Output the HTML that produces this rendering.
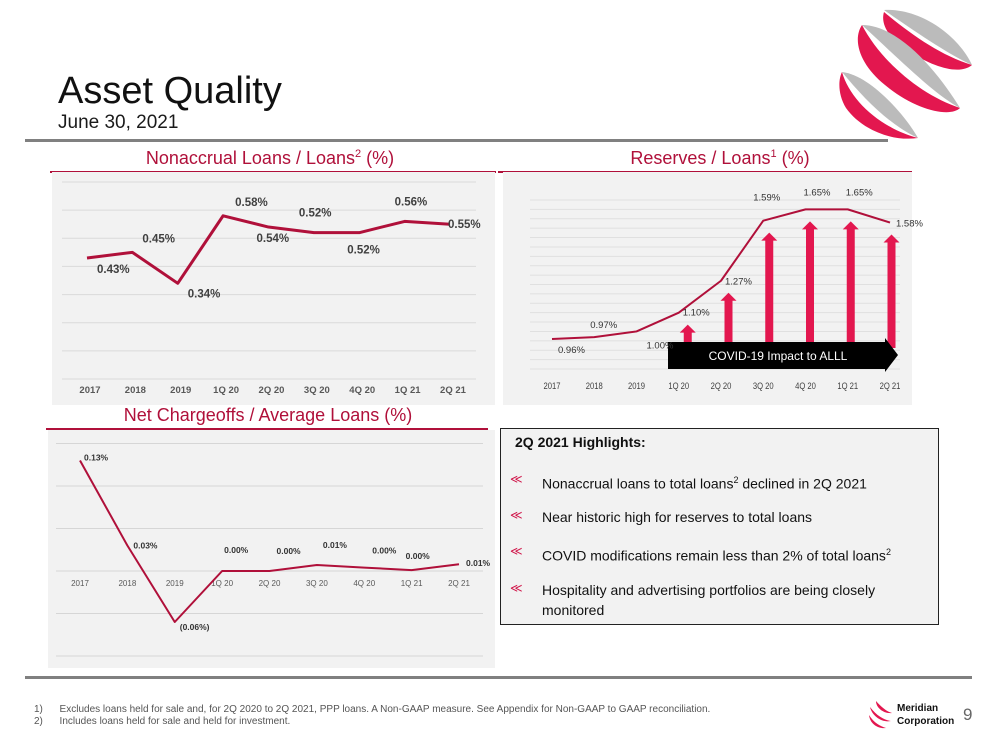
<!DOCTYPE html>
<html><head><meta charset="utf-8">
<style>
body{margin:0;width:1000px;height:750px;background:#fff;overflow:hidden;font-family:"Liberation Sans",sans-serif;}
svg{position:absolute;left:0;top:0;}
.hl{position:absolute;left:500px;top:428px;width:439px;height:197px;border:1px solid #222;background:#f2f2f2;box-sizing:border-box;font-family:"Liberation Sans",sans-serif;color:#111;}
.hl .h{position:absolute;left:14px;top:5px;font-weight:bold;font-size:14px;}
.hl .b{position:absolute;left:41px;font-size:14px;line-height:20px;width:390px;}
.hl .bi{position:absolute;left:9px;color:#d0164a;font-size:12px;}
</style></head><body>
<svg id="s" width="1000" height="750" xmlns="http://www.w3.org/2000/svg">
  <text x="58" y="103" font-size="38" fill="#111">Asset Quality</text>
  <text x="58" y="128" font-size="19" fill="#1a1a1a">June 30, 2021</text>
  <rect x="25" y="139" width="863" height="3" fill="#808080"/>
  <g>
    <path d="M884 10 C920 8 958 35 972 65 C950 55 920 35 884 10 Z" fill="#bbb"/>
    <path d="M884 12 C912 35 940 55 972 65 C960 75 935 68 910 52 C890 40 880 25 884 12 Z" fill="#e3174f"/>
    <path d="M862 25 C900 25 940 75 960 108 C935 95 900 60 862 25 Z" fill="#bbb"/>
    <path d="M862 25 C880 60 920 95 960 108 C950 118 915 110 885 85 C860 65 852 40 862 25 Z" fill="#e3174f"/>
    <path d="M842 72 C870 75 905 115 918 138 C890 125 865 100 842 72 Z" fill="#bbb"/>
    <path d="M842 72 C850 100 880 128 918 138 C890 142 860 128 846 108 C838 95 838 80 842 72 Z" fill="#e3174f"/>
  </g>
  <g id="c1"></g>
  <g id="c2"></g>
  <g id="c3"></g>
  <rect x="25" y="676" width="947" height="3" fill="#808080"/>
  <text x="34" y="712" font-size="10" fill="#555">1)&#160;&#160;&#160;&#160;&#160;&#160;Excludes loans held for sale and, for 2Q 2020 to 2Q 2021, PPP loans.  A Non-GAAP measure. See Appendix for Non-GAAP to GAAP reconciliation.</text>
  <text x="34" y="724" font-size="10" fill="#555">2)&#160;&#160;&#160;&#160;&#160;&#160;Includes loans held for sale and held for investment.</text>
  <g>
    <path d="M876 701 C882 708 888 712 892 713 C884 714 876 708 876 701Z" fill="#e3174f"/>
    <path d="M870 707 C877 716 884 720 891 721 C882 723 872 716 870 707Z" fill="#e3174f"/>
    <path d="M869 715 C874 723 880 726 886 728 C878 729 870 724 869 715Z" fill="#e3174f"/>
  </g>
  <text x="897" y="711" font-size="10" font-weight="bold" fill="#111">Meridian</text>
  <text x="897" y="724" font-size="10" font-weight="bold" fill="#111">Corporation</text>
  <text x="963" y="720" font-size="17" fill="#666">9</text>
</svg>
<div class="hl">
  <div class="h">2Q 2021 Highlights:</div>
  <div class="bi" style="top:43px">&#8810;</div>
  <div class="b" style="top:41px">Nonaccrual loans to total loans<sup style="font-size:9px">2</sup> declined in 2Q 2021</div>
  <div class="bi" style="top:79px">&#8810;</div>
  <div class="b" style="top:78px">Near historic high for reserves to total loans</div>
  <div class="bi" style="top:115px">&#8810;</div>
  <div class="b" style="top:113px">COVID modifications remain less than 2% of total loans<sup style="font-size:9px">2</sup></div>
  <div class="bi" style="top:152px">&#8810;</div>
  <div class="b" style="top:151px">Hospitality and advertising portfolios are being closely monitored</div>
</div>
<script>
const categories = ["2017","2018","2019","1Q 20","2Q 20","3Q 20","4Q 20","1Q 21","2Q 21"];
const nonaccrualValues = [0.43,0.45,0.34,0.58,0.54,0.52,0.52,0.56,0.55];
const nonaccrualLabels = ["0.43%","0.45%","0.34%","0.58%","0.54%","0.52%","0.52%","0.56%","0.55%"];
const reservesValues = [0.96,0.97,1.00,1.10,1.27,1.59,1.65,1.65,1.58];
const reservesLabels = ["0.96%","0.97%","1.00%","1.10%","1.27%","1.59%","1.65%","1.65%","1.58%"];
const covidArrowIndex = [3,4,5,6,7,8];
const chargeoffValues = [0.13,0.03,-0.06,0.0,0.0,0.007,0.004,0.001,0.008];
const chargeoffLabels = ["0.13%","0.03%","(0.06%)","0.00%","0.00%","0.01%","0.00%","0.00%","0.01%"];
const nonaccrualTicks = [0,0.1,0.2,0.3,0.4,0.5,0.6,0.7];
const chargeoffTicks = [-0.1,-0.05,0,0.05,0.1,0.15];

const NS="http://www.w3.org/2000/svg";
function mk(parent,tag,attrs,text){const e=document.createElementNS(NS,tag);for(const k in attrs)e.setAttribute(k,attrs[k]);if(text!==undefined)e.textContent=text;parent.appendChild(e);return e;}

function header(g,title,sup,cx,ty,x1,x2){
  const t=mk(g,'text',{x:cx,y:ty,'font-size':18,fill:'#b0103a','text-anchor':'middle'});
  
  
  t.appendChild(document.createTextNode(title));
  if(sup){mk(t,'tspan',{'font-size':11,dy:-7},sup);mk(t,'tspan',{dy:7},' (%)');}
  const r=mk(g,'rect',{x:x1,y:ty+7,width:x2-x1,height:2,fill:'#b0103a'});
  
  
}

// Chart 1
(function(){
  const g=document.getElementById('c1');
  header(g,'Nonaccrual Loans / Loans','2',270,164,50,496);
  const bg=mk(g,'rect',{x:52,y:172,width:443,height:233,fill:'#f2f2f2'});
  
  
  const y=v=>379-v*(379-182)/0.7, x=i=>87+i*(450-87)/8;
  nonaccrualTicks.forEach(t=>{const l=mk(g,'line',{x1:62,x2:476,y1:y(t),y2:y(t),stroke:'#dadada','stroke-width':1});
    
    });
  categories.forEach((c,i)=>{const t=mk(g,'text',{x:x(i)+3,y:393,'font-size':9.5,'font-weight':'bold',fill:'#595959','text-anchor':'middle'},c);
    
    });
  const p=mk(g,'polyline',{points:nonaccrualValues.map((v,i)=>x(i)+','+y(v)).join(' '),fill:'none',stroke:'#b0103a','stroke-width':3,'stroke-linejoin':'round'});
  
  
  const off=[[10,15],[10,-10],[10,14],[12,-10],[-12,15],[-15,-16],[-12,21],[-10,-16],[-2,4]];
  nonaccrualValues.forEach((v,i)=>{const t=mk(g,'text',{x:x(i)+off[i][0],y:y(v)+off[i][1],'font-size':11.5,'font-weight':'bold',fill:'#404040'},nonaccrualLabels[i]);
    
    });
})();

// Chart 2
(function(){
  const g=document.getElementById('c2');
  header(g,'Reserves / Loans','1',720,164,498,912);
  const bg=mk(g,'rect',{x:503,y:172,width:409,height:233,fill:'#f2f2f2'});
  
  
  const y=v=>369-(v-0.8)*(369-200)/0.9, x=i=>552+i*(890-552)/8;
  for(let k=0;k<=18;k++){const v=0.8+k*0.05;const l=mk(g,'line',{x1:530,x2:900,y1:y(v),y2:y(v),stroke:'#e0e0e0','stroke-width':1});
    
    }
  categories.forEach((c,i)=>{const t=mk(g,'text',{x:x(i),y:389,'font-size':9,fill:'#404040','text-anchor':'middle',transform:`translate(${x(i)},0) scale(0.85,1) translate(${-x(i)},0)`},c);
    
    });
  covidArrowIndex.forEach(i=>{const ax=x(i)+(i-5)*-1.5+6,top=y(reservesValues[i])+12,bot=348;
    const a=mk(g,'path',{d:`M${ax-4} ${bot} L${ax-4} ${top+8} L${ax-8} ${top+8} L${ax} ${top} L${ax+8} ${top+8} L${ax+4} ${top+8} L${ax+4} ${bot} Z`,fill:'#e3174f'});
    
    });
  const p=mk(g,'polyline',{points:reservesValues.map((v,i)=>x(i)+','+y(v)).join(' '),fill:'none',stroke:'#b0103a','stroke-width':2,'stroke-linejoin':'round'});
  
  
  const ba=mk(g,'path',{d:'M668 342 L885 342 L885 338 L898 355 L885 372 L885 369 L668 369 Z',fill:'#000'});
  
  
  const bt=mk(g,'text',{x:778,y:360,'font-size':12,fill:'#fff','text-anchor':'middle'},'COVID-19 Impact to ALLL');
  
  
  const off=[[6,14],[-4,-9],[10,17],[4,3],[4,4],[-10,-20],[-2,-14],[-2,-14],[6,4]];
  reservesValues.forEach((v,i)=>{const t=mk(g,'text',{x:x(i)+off[i][0],y:y(v)+off[i][1],'font-size':9.5,fill:'#333'},reservesLabels[i]);
    
    });
})();

// Chart 3
(function(){
  const g=document.getElementById('c3');
  header(g,'Net Chargeoffs / Average Loans (%)','',268,421,46,488);
  const bg=mk(g,'rect',{x:48,y:430,width:447,height:238,fill:'#f2f2f2'});
  
  
  const y=v=>571-v*850, x=i=>80+i*(459-80)/8;
  chargeoffTicks.forEach(t=>{const l=mk(g,'line',{x1:56,x2:483,y1:y(t),y2:y(t),stroke:'#d6d6d6','stroke-width':1});
    
    });
  categories.forEach((c,i)=>{const t=mk(g,'text',{x:x(i),y:586,'font-size':8,fill:'#595959','text-anchor':'middle'},c);
    
    });
  const p=mk(g,'polyline',{points:chargeoffValues.map((v,i)=>x(i)+','+y(v)).join(' '),fill:'none',stroke:'#b0103a','stroke-width':2,'stroke-linejoin':'round'});
  
  
  const off=[[4,0],[6,3],[5,8],[2,-18],[7,-17],[6,-17],[8,-14],[-6,-11],[7,2]];
  chargeoffValues.forEach((v,i)=>{const t=mk(g,'text',{x:x(i)+off[i][0],y:y(v)+off[i][1],'font-size':8.5,'font-weight':'bold',fill:'#333'},chargeoffLabels[i]);
    
    });
})();
</script>
</body></html>
